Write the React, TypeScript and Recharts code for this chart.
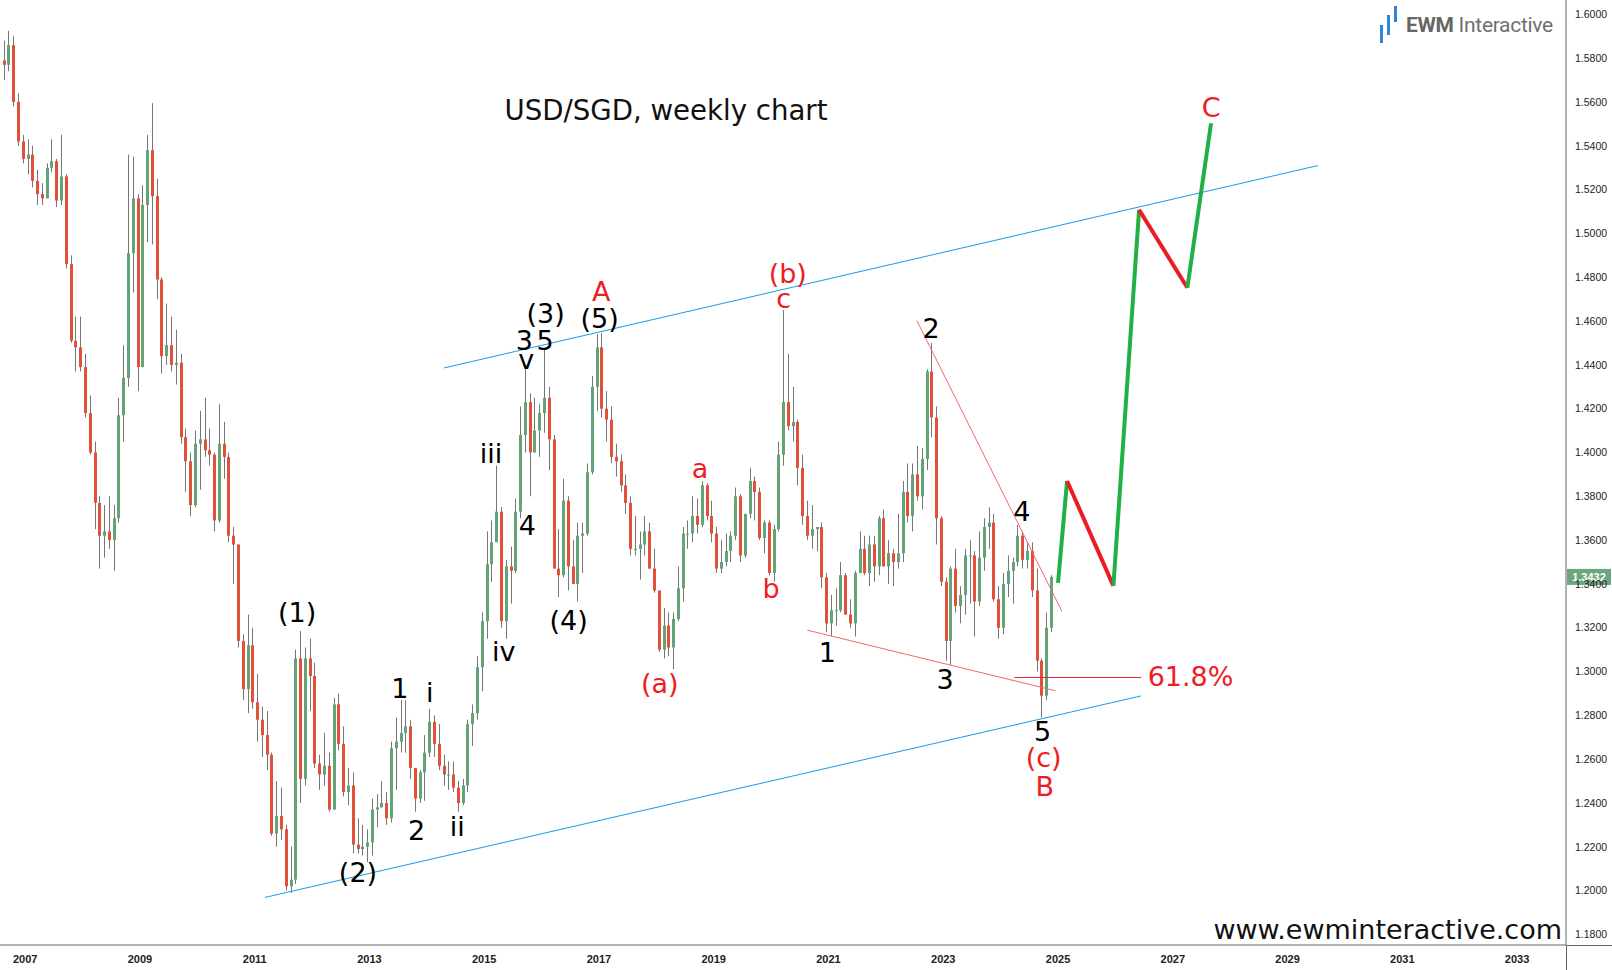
import { ComposedChart, Bar, Scatter, XAxis, YAxis, ReferenceLine } from 'recharts';

// monthly candles, [open, high, low, close]
const y2006 = [
  [1.579, 1.588, 1.57, 1.577], [1.577, 1.5925, 1.574, 1.586], [1.586, 1.59, 1.558, 1.56],
  [1.56, 1.564, 1.54, 1.542], [1.542, 1.545, 1.532, 1.534],
];
const y2007 = [
  [1.534, 1.543, 1.527, 1.536], [1.536, 1.54, 1.521, 1.524], [1.524, 1.529, 1.513, 1.518],
  [1.518, 1.523, 1.513, 1.516], [1.516, 1.532, 1.516, 1.53], [1.53, 1.543, 1.528, 1.533],
  [1.533, 1.534, 1.512, 1.515], [1.515, 1.545, 1.513, 1.526], [1.526, 1.527, 1.484, 1.486],
  [1.486, 1.49, 1.45, 1.451], [1.451, 1.462, 1.437, 1.448], [1.448, 1.462, 1.437, 1.439],
];
const y2008 = [
  [1.439, 1.445, 1.416, 1.418], [1.418, 1.426, 1.399, 1.4], [1.4, 1.405, 1.365, 1.377],
  [1.377, 1.38, 1.347, 1.362], [1.362, 1.376, 1.352, 1.364], [1.364, 1.38, 1.356, 1.36],
  [1.36, 1.376, 1.346, 1.37], [1.37, 1.425, 1.368, 1.417], [1.417, 1.449, 1.405, 1.434],
  [1.434, 1.536, 1.43, 1.491], [1.491, 1.535, 1.473, 1.516], [1.516, 1.518, 1.428, 1.439],
];
const y2009 = [
  [1.439, 1.522, 1.439, 1.513], [1.513, 1.545, 1.496, 1.538], [1.538, 1.5595, 1.495, 1.517],
  [1.517, 1.525, 1.47, 1.479], [1.479, 1.48, 1.436, 1.444], [1.444, 1.468, 1.44, 1.449],
  [1.449, 1.462, 1.437, 1.44], [1.44, 1.456, 1.431, 1.441], [1.441, 1.445, 1.404, 1.407],
  [1.407, 1.411, 1.382, 1.396], [1.396, 1.4, 1.371, 1.376], [1.376, 1.41, 1.375, 1.404],
];
const y2010 = [
  [1.404, 1.419, 1.383, 1.406], [1.406, 1.425, 1.398, 1.401], [1.401, 1.411, 1.394, 1.399],
  [1.399, 1.4, 1.364, 1.369], [1.369, 1.422, 1.368, 1.404], [1.404, 1.414, 1.388, 1.398],
  [1.398, 1.4, 1.359, 1.362], [1.362, 1.366, 1.34, 1.358], [1.358, 1.358, 1.311, 1.314],
  [1.314, 1.317, 1.287, 1.292], [1.292, 1.326, 1.281, 1.312], [1.312, 1.32, 1.283, 1.286],
];
const y2011 = [
  [1.286, 1.299, 1.268, 1.278], [1.278, 1.284, 1.261, 1.271], [1.271, 1.282, 1.255, 1.262],
  [1.262, 1.263, 1.225, 1.226], [1.226, 1.25, 1.22, 1.234], [1.234, 1.247, 1.223, 1.228],
  [1.228, 1.23, 1.2, 1.202], [1.202, 1.22, 1.199, 1.205], [1.205, 1.31, 1.203, 1.306],
  [1.306, 1.3185, 1.24, 1.251], [1.251, 1.311, 1.248, 1.306], [1.306, 1.315, 1.282, 1.298],
];
const y2012 = [
  [1.298, 1.304, 1.256, 1.258], [1.258, 1.262, 1.246, 1.253], [1.253, 1.272, 1.248, 1.257],
  [1.257, 1.263, 1.236, 1.237], [1.237, 1.288, 1.237, 1.285], [1.285, 1.29, 1.264, 1.267],
  [1.267, 1.275, 1.243, 1.245], [1.245, 1.256, 1.239, 1.248], [1.248, 1.254, 1.217, 1.221],
  [1.221, 1.233, 1.217, 1.219], [1.219, 1.23, 1.216, 1.22], [1.22, 1.228, 1.213, 1.222],
];
const y2013 = [
  [1.222, 1.242, 1.216, 1.237], [1.237, 1.244, 1.229, 1.238], [1.238, 1.25, 1.238, 1.24],
  [1.24, 1.245, 1.23, 1.233], [1.233, 1.268, 1.231, 1.265], [1.265, 1.279, 1.246, 1.268],
  [1.268, 1.287, 1.263, 1.272], [1.272, 1.287, 1.263, 1.275], [1.275, 1.278, 1.251, 1.256],
  [1.256, 1.256, 1.236, 1.242], [1.242, 1.255, 1.24, 1.254], [1.254, 1.271, 1.241, 1.263],
];
const y2014 = [
  [1.263, 1.283, 1.261, 1.277], [1.277, 1.28, 1.261, 1.267], [1.267, 1.276, 1.255, 1.257],
  [1.257, 1.262, 1.248, 1.253], [1.253, 1.259, 1.246, 1.253], [1.253, 1.259, 1.245, 1.247],
  [1.247, 1.25, 1.236, 1.24], [1.24, 1.251, 1.239, 1.248], [1.248, 1.278, 1.245, 1.276],
  [1.276, 1.285, 1.266, 1.281], [1.281, 1.307, 1.278, 1.302], [1.302, 1.327, 1.291, 1.323],
];
const y2015 = [
  [1.323, 1.364, 1.315, 1.349], [1.349, 1.369, 1.341, 1.359], [1.359, 1.394, 1.36, 1.373],
  [1.373, 1.375, 1.32, 1.323], [1.323, 1.351, 1.315, 1.348], [1.348, 1.357, 1.331, 1.346],
  [1.346, 1.379, 1.345, 1.373], [1.373, 1.421, 1.37, 1.408], [1.408, 1.438, 1.4, 1.423],
  [1.423, 1.427, 1.38, 1.4], [1.4, 1.425, 1.4, 1.41], [1.41, 1.422, 1.398, 1.418],
];
const y2016 = [
  [1.418, 1.447, 1.409, 1.425], [1.425, 1.43, 1.392, 1.406], [1.406, 1.408, 1.347, 1.347],
  [1.347, 1.365, 1.334, 1.344], [1.344, 1.388, 1.343, 1.378], [1.378, 1.38, 1.337, 1.348],
  [1.348, 1.36, 1.34, 1.34], [1.34, 1.368, 1.332, 1.362], [1.362, 1.368, 1.345, 1.363],
  [1.363, 1.395, 1.362, 1.391], [1.391, 1.435, 1.39, 1.43], [1.43, 1.454, 1.419, 1.448],
];
const y2017 = [
  [1.448, 1.4545, 1.416, 1.42], [1.42, 1.428, 1.405, 1.415], [1.415, 1.421, 1.395, 1.398],
  [1.398, 1.404, 1.389, 1.396], [1.396, 1.399, 1.382, 1.385], [1.385, 1.39, 1.372, 1.377],
  [1.377, 1.38, 1.353, 1.356], [1.356, 1.371, 1.353, 1.356], [1.356, 1.364, 1.342, 1.358],
  [1.358, 1.371, 1.353, 1.364], [1.364, 1.368, 1.347, 1.347], [1.347, 1.356, 1.336, 1.337],
];
const y2018 = [
  [1.337, 1.337, 1.309, 1.31], [1.31, 1.329, 1.306, 1.321], [1.321, 1.327, 1.307, 1.311],
  [1.311, 1.327, 1.301, 1.324], [1.324, 1.348, 1.323, 1.338], [1.338, 1.366, 1.332, 1.363],
  [1.363, 1.369, 1.356, 1.363], [1.363, 1.38, 1.359, 1.371], [1.371, 1.379, 1.363, 1.367],
  [1.367, 1.387, 1.366, 1.385], [1.385, 1.386, 1.369, 1.371], [1.371, 1.378, 1.359, 1.363],
];
const y2019 = [
  [1.363, 1.366, 1.345, 1.347], [1.347, 1.36, 1.345, 1.35], [1.35, 1.363, 1.348, 1.355],
  [1.355, 1.364, 1.35, 1.362], [1.362, 1.384, 1.36, 1.38], [1.38, 1.381, 1.35, 1.353],
  [1.353, 1.372, 1.352, 1.372], [1.372, 1.393, 1.37, 1.387], [1.387, 1.389, 1.369, 1.382],
  [1.382, 1.384, 1.36, 1.361], [1.361, 1.369, 1.354, 1.368], [1.368, 1.369, 1.344, 1.345],
];
const y2020 = [
  [1.345, 1.367, 1.341, 1.365], [1.365, 1.405, 1.364, 1.399], [1.399, 1.465, 1.394, 1.423],
  [1.423, 1.445, 1.41, 1.412], [1.412, 1.43, 1.405, 1.414], [1.414, 1.415, 1.385, 1.393],
  [1.393, 1.399, 1.367, 1.371], [1.371, 1.378, 1.36, 1.362], [1.362, 1.376, 1.356, 1.365],
  [1.365, 1.366, 1.355, 1.366], [1.366, 1.368, 1.338, 1.343], [1.343, 1.345, 1.318, 1.322],
];
const y2021 = [
  [1.322, 1.335, 1.316, 1.328], [1.328, 1.338, 1.321, 1.328], [1.328, 1.35, 1.327, 1.344],
  [1.344, 1.345, 1.326, 1.326], [1.326, 1.333, 1.32, 1.322], [1.322, 1.346, 1.316, 1.345],
  [1.345, 1.364, 1.345, 1.356], [1.356, 1.362, 1.344, 1.345], [1.345, 1.362, 1.339, 1.358],
  [1.358, 1.362, 1.341, 1.348], [1.348, 1.371, 1.344, 1.37], [1.37, 1.374, 1.348, 1.348],
];
const y2022 = [
  [1.348, 1.36, 1.34, 1.354], [1.354, 1.356, 1.339, 1.35], [1.35, 1.372, 1.347, 1.354],
  [1.354, 1.387, 1.35, 1.382], [1.382, 1.395, 1.368, 1.371], [1.371, 1.395, 1.364, 1.39],
  [1.39, 1.403, 1.378, 1.38], [1.38, 1.402, 1.374, 1.397], [1.397, 1.438, 1.392, 1.437],
  [1.437, 1.45, 1.407, 1.416], [1.416, 1.421, 1.358, 1.37], [1.37, 1.371, 1.339, 1.341],
];
const y2023 = [
  [1.341, 1.343, 1.305, 1.314], [1.314, 1.348, 1.303, 1.347], [1.347, 1.356, 1.327, 1.33],
  [1.33, 1.339, 1.322, 1.335], [1.335, 1.356, 1.326, 1.353], [1.353, 1.36, 1.331, 1.353],
  [1.353, 1.355, 1.316, 1.332], [1.332, 1.364, 1.33, 1.352], [1.352, 1.37, 1.346, 1.366],
  [1.366, 1.375, 1.356, 1.368], [1.368, 1.372, 1.332, 1.333], [1.333, 1.339, 1.315, 1.32],
];
const y2024 = [
  [1.32, 1.345, 1.317, 1.34], [1.34, 1.353, 1.334, 1.346], [1.346, 1.352, 1.331, 1.35],
  [1.35, 1.367, 1.348, 1.362], [1.362, 1.364, 1.347, 1.351], [1.351, 1.359, 1.347, 1.355],
  [1.355, 1.359, 1.334, 1.337], [1.337, 1.347, 1.3, 1.305], [1.305, 1.306, 1.279, 1.289],
  [1.289, 1.327, 1.287, 1.32], [1.32, 1.344, 1.318, 1.3432],
];

// [year, first month index, rows]
const years: [number, number, number[][]][] = [
  [2006, 7, y2006], [2007, 0, y2007], [2008, 0, y2008], [2009, 0, y2009], [2010, 0, y2010],
  [2011, 0, y2011], [2012, 0, y2012], [2013, 0, y2013], [2014, 0, y2014], [2015, 0, y2015],
  [2016, 0, y2016], [2017, 0, y2017], [2018, 0, y2018], [2019, 0, y2019], [2020, 0, y2020],
  [2021, 0, y2021], [2022, 0, y2022], [2023, 0, y2023], [2024, 0, y2024],
];

const lastPrice = 1.3432;

// trend lines, [year, price] end points
const upperChannel = [[2014.3, 1.4386], [2029.53, 1.531]];
const lowerChannel = [[2011.18, 1.1969], [2026.45, 1.2889]];
const wedgeTop = [[2022.54, 1.4602], [2025.07, 1.3274]];
const wedgeBottom = [[2020.63, 1.3189], [2024.96, 1.2912]];
const fibLine = [[2024.24, 1.2973], [2026.45, 1.2973]];
const projection = [
  [2025.0, 1.3405], [2025.158, 1.387], [2025.965, 1.3391],
  [2026.413, 1.5108], [2027.254, 1.4752], [2027.667, 1.5503],
];

const blackLabels = [
  { x: 2011.74, y: 1.3269, t: '(1)' }, { x: 2012.8, y: 1.2082, t: '(2)' },
  { x: 2013.53, y: 1.2922, t: '1' }, { x: 2013.82, y: 1.2274, t: '2' },
  { x: 2014.05, y: 1.2903, t: 'i' }, { x: 2014.53, y: 1.2293, t: 'ii' },
  { x: 2015.12, y: 1.3996, t: 'iii' }, { x: 2015.34, y: 1.3091, t: 'iv' },
  { x: 2015.75, y: 1.3668, t: '4' }, { x: 2015.73, y: 1.4423, t: 'v' },
  { x: 2015.7, y: 1.4512, t: '3' }, { x: 2016.06, y: 1.4512, t: '5' },
  { x: 2016.07, y: 1.4635, t: '(3)' }, { x: 2016.47, y: 1.3231, t: '(4)' },
  { x: 2017.01, y: 1.4611, t: '(5)' },
  { x: 2020.98, y: 1.3086, t: '1' }, { x: 2022.79, y: 1.4564, t: '2' },
  { x: 2023.03, y: 1.2964, t: '3' }, { x: 2024.37, y: 1.3729, t: '4' },
  { x: 2024.73, y: 1.2725, t: '5' },
];
const redLabels = [
  { x: 2017.04, y: 1.4733, t: 'A' }, { x: 2018.06, y: 1.2945, t: '(a)' },
  { x: 2018.76, y: 1.3926, t: 'a' }, { x: 2020.0, y: 1.3377, t: 'b' },
  { x: 2020.22, y: 1.4705, t: 'c' }, { x: 2020.29, y: 1.4818, t: '(b)' },
  { x: 2024.75, y: 1.2607, t: '(c)' }, { x: 2024.77, y: 1.2476, t: 'B' },
  { x: 2027.67, y: 1.5573, t: 'C' }, { x: 2027.31, y: 1.2978, t: '61.8%' },
];

const xTicks = [2007, 2009, 2011, 2013, 2015, 2017, 2019, 2021, 2023, 2025, 2027, 2029, 2031, 2033];
const yTicks = [
  1.18, 1.2, 1.22, 1.24, 1.26, 1.28, 1.3, 1.32, 1.34, 1.36, 1.38, 1.4,
  1.42, 1.44, 1.46, 1.48, 1.5, 1.52, 1.54, 1.56, 1.58, 1.6,
];

const candles = years.flatMap(([yr, first, rows]) =>
  rows.map((r, i) => ({
    x: yr + (first + i + 0.5) / 12,
    o: r[0], h: r[1], l: r[2], c: r[3],
  }))
);

const UP = '#62a377';
const DOWN = '#e2503a';
const WICK = '#767676';
const RED = '#ee1c24';
const FONT = '"DejaVu Sans", Verdana, sans-serif';

function Candle(p: any) {
  const { x, y, width, height, payload } = p;
  if (x == null || y == null || !height) return null;
  const { o, h, l, c } = payload;
  const span = h - l || 1e-6;
  const py = (v: number) => y + ((h - v) / span) * height;
  const cx = Math.round(x + width / 2) + 0.5;
  const top = py(Math.max(o, c));
  const bot = py(Math.min(o, c));
  return (
    <g>
      <line x1={cx} x2={cx} y1={y} y2={y + height} stroke={WICK} strokeWidth={1} />
      <rect x={cx - 1.5} y={top} width={3} height={Math.max(1, bot - top)} fill={c >= o ? UP : DOWN} />
    </g>
  );
}

const textShape = (color: string) => (p: any) => (
  <text
    x={p.cx}
    y={p.cy}
    textAnchor="middle"
    dominantBaseline="central"
    fill={color}
    fontSize={27}
    fontFamily={FONT}
  >
    {p.payload.t}
  </text>
);

function PriceBadge(props: any) {
  const vb = props.viewBox || {};
  const x = (vb.x || 0) + (vb.width || 0);
  const y = vb.y || 0;
  return (
    <g>
      <rect x={x + 1} y={y - 8} width={44} height={16} fill="#6ca67d" />
      <text x={x + 23} y={y} textAnchor="middle" dominantBaseline="central" fill="#fff"
        fontSize={11} fontWeight="bold" fontFamily='"Liberation Sans", Arial, sans-serif'>
        {lastPrice.toFixed(4)}
      </text>
    </g>
  );
}

function seg(a: number[], b: number[]) {
  return [{ x: a[0], y: a[1] }, { x: b[0], y: b[1] }];
}

export default function App() {
  return (
    <div style={{ position: 'relative', width: 1612, height: 970, background: '#fff', fontFamily: FONT }}>
      <style>{'body{margin:0;background:#fff}'}</style>
      <ComposedChart
        width={1612}
        height={970}
        data={candles}
        margin={{ top: 0, right: 0, bottom: 0, left: 0 }}
      >
        <XAxis
          dataKey="x"
          type="number"
          domain={[2006.5608, 2033.853]}
          allowDataOverflow
          ticks={xTicks}
          height={25}
          stroke="#666"
          tickLine={false}
          tickSize={6}
          tickMargin={4}
          tick={{ fill: '#222', fontSize: 11, fontWeight: 'bold', fontFamily: '"Liberation Sans", Arial, sans-serif' }}
        />
        <YAxis
          orientation="right"
          type="number"
          domain={[1.17517, 1.60657]}
          allowDataOverflow
          ticks={yTicks}
          width={46}
          stroke="#666"
          tickLine={false}
          tickSize={6}
          tickMargin={3}
          tickFormatter={(v: number) => v.toFixed(4)}
          tick={{ fill: '#222', fontSize: 10.5, textAnchor: 'start', fontFamily: '"Liberation Sans", Arial, sans-serif' }}
        />
        <Bar
          dataKey={(d: any) => [d.l, d.h]}
          barSize={3}
          shape={<Candle />}
          isAnimationActive={false}
        />
        <ReferenceLine segment={seg(upperChannel[0], upperChannel[1])} stroke="#1c9ae3" strokeWidth={1} ifOverflow="visible" />
        <ReferenceLine segment={seg(lowerChannel[0], lowerChannel[1])} stroke="#1c9ae3" strokeWidth={1} ifOverflow="visible" />
        <ReferenceLine segment={seg(wedgeTop[0], wedgeTop[1])} stroke="#f06a6a" strokeWidth={1} ifOverflow="visible" />
        <ReferenceLine segment={seg(wedgeBottom[0], wedgeBottom[1])} stroke="#f06a6a" strokeWidth={1} ifOverflow="visible" />
        <ReferenceLine segment={seg(fibLine[0], fibLine[1])} stroke="#e8262a" strokeWidth={1} ifOverflow="visible" />
        {projection.slice(1).map((pt, i) => (
          <ReferenceLine
            key={'p' + i}
            segment={seg(projection[i], pt)}
            stroke={pt[1] > projection[i][1] ? '#1fb145' : '#ec1c24'}
            strokeWidth={4}
            ifOverflow="visible"
          />
        ))}
        <ReferenceLine y={lastPrice} stroke="none" ifOverflow="visible" label={(p: any) => <PriceBadge {...p} />} />
        <Scatter data={blackLabels} dataKey="y" shape={textShape('#000')} isAnimationActive={false} />
        <Scatter data={redLabels} dataKey="y" shape={textShape(RED)} isAnimationActive={false} />
      </ComposedChart>

      {/* axis lines continue past the plot corner */}
      <div style={{ position: 'absolute', left: 1566, top: 945, width: 46, height: 1, background: '#666' }} />
      <div style={{ position: 'absolute', left: 1566, top: 945, width: 1, height: 25, background: '#666' }} />

      <div style={{ position: 'absolute', left: 366, top: 93, width: 600, textAlign: 'center', fontSize: 27.6, color: '#111', lineHeight: '36px' }}>
        USD/SGD, weekly chart
      </div>
      <div style={{ position: 'absolute', right: 50, top: 913, fontSize: 27, color: '#111', lineHeight: '34px' }}>
        www.ewminteractive.com
      </div>

      {/* logo */}
      <div style={{ position: 'absolute', left: 1380, top: 6 }}>
        <div style={{ position: 'absolute', left: 0, top: 19, width: 3, height: 18, background: '#2f86d8' }} />
        <div style={{ position: 'absolute', left: 7, top: 9, width: 3, height: 20, background: '#2f86d8' }} />
        <div style={{ position: 'absolute', left: 14, top: 0, width: 3, height: 16, background: '#2f86d8' }} />
      </div>
      <div style={{ position: 'absolute', left: 1406, top: 10, fontFamily: 'Roboto, sans-serif', fontSize: 21, color: '#6f6f6f', whiteSpace: 'nowrap', lineHeight: '30px', letterSpacing: -0.3 }}>
        <span style={{ fontWeight: 'bold', color: '#666' }}>EWM</span> Interactive
      </div>
    </div>
  );
}
